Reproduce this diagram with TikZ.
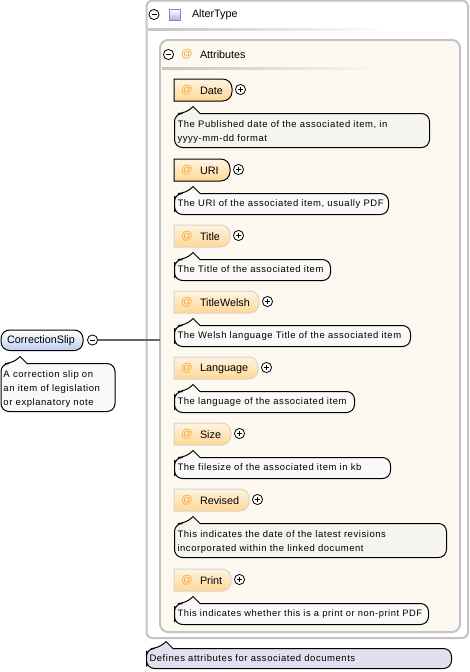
\documentclass[tikz,border=0pt]{standalone}
\usepackage{fontspec}
\setmainfont{Liberation Sans}
\newfontfamily\docfont[LetterSpace=6]{Liberation Sans}
\usetikzlibrary{calc}
\definecolor{framegray}{HTML}{C4C4C4}
\definecolor{cream}{HTML}{FEF9F0}
\definecolor{docfill}{HTML}{F6F4EE}
\definecolor{docwhite}{HTML}{F9F9F7}
\definecolor{lavdoc}{HTML}{E3DFEF}
\definecolor{orangetop}{HTML}{FFF4E2}
\definecolor{orangebot}{HTML}{FFD796}
\definecolor{atcolor}{HTML}{F0A830}
\definecolor{attrline}{HTML}{D8D4C8}
\definecolor{slipblue}{HTML}{BCCFF0}
\definecolor{iconedge}{HTML}{9080B8}
\definecolor{iconfill}{HTML}{B8A8DC}
\definecolor{linkgray}{HTML}{666666}
\tikzset{
  every node/.style={inner sep=0pt,outer sep=0pt},
  label text/.style={font=\fontsize{8.1pt}{9pt}\selectfont,anchor=west,text=black},
  doc text/.style={font=\docfont\fontsize{7.1pt}{10.5pt}\selectfont,anchor=north west,align=left,text=black},
  toggle/.style={circle,draw=black,fill=white,line width=0.6pt,minimum size=7.6pt},
  atsign/.style={font=\fontsize{8.5pt}{9pt}\selectfont,text=atcolor,anchor=center},
  frame line/.style={draw=framegray,line width=1.5pt,rounded corners=4.5pt},
  link/.style={draw=linkgray,line width=1.5pt},
}
% toggle glyph: #1 name, #2 x, #3 y, #4 1 for plus
\newcommand{\togglebtn}[4]{%
  \node[toggle] (#1) at (#2,#3) {};
  \draw[line width=0.6pt] ($(#1.center)+(-2.5,0)$) -- ($(#1.center)+(2.5,0)$);
  \ifnum#4=1 \draw[line width=0.6pt] ($(#1.center)+(0,-2.5)$) -- ($(#1.center)+(0,2.5)$);\fi
}
% doc bubble: x1 y1 x2 y2 pointer-x fill
\newcommand{\docbubble}[6]{%
  \draw[black,line width=0.75pt,fill=#6,rounded corners=6pt]
    (#1,#2/2+#4/2) -- (#1,#2) -- (#5-7,#2) [sharp corners] -- (#5,#2-7) -- (#5+7,#2) [rounded corners=6pt] -- (#3,#2) -- (#3,#4) -- (#1,#4) -- cycle;
}
% attribute: name y xright required label
\newcommand{\attr}[5]{%
  \ifnum#4=1 \def\bcol{black}\else\def\bcol{attrline}\fi
  \draw[draw=\bcol,line width=0.75pt,top color=orangetop,bottom color=orangebot]
    (174,#2) -- (#3-8,#2) [rounded corners=7pt] -- (#3,#2) -- (#3,#2+22) [sharp corners] -- (174,#2+22) -- cycle;
  \node[atsign] (#1at) at (187,#2+11) {@};
  \node[label text] (#1) at (200,#2+11.5) {#5};
  \togglebtn{#1tg}{#3+8.5}{#2+10.5}{1}
}
\begin{document}
\begin{tikzpicture}[x=0.75pt,y=-0.75pt]
\useasboundingbox (0,0) rectangle (470,672);
\fill[white] (0,0) rectangle (470,672);

% outer frame
\draw[frame line,fill=white] (146.5,0.5) -- (468,0.5) -- (468,638) -- (146.5,638) -- cycle;
\togglebtn{altertg}{154}{14.5}{0}
\node[draw=iconedge,line width=0.75pt,minimum size=8.6pt,top color=white,bottom color=iconfill,anchor=center] (altericon) at (175,15) {};
\node[label text] (altertype) at (192,15) {AlterType};
\shade[left color=framegray,right color=white] (148,28) rectangle (390,30);

% inner frame
\draw[frame line,fill=cream,rounded corners=6pt] (160,40) -- (460,40) -- (460,632) -- (160,632) -- cycle;
\togglebtn{attrtg}{168.5}{54.5}{0}
\node[atsign] (attrat) at (187,54.5) {@};
\node[label text] (attributes) at (200,55) {Attributes};
\shade[left color=framegray,right color=cream] (162,67) rectangle (385,69);

\coordinate (attrwest) at (160,340);

% attributes
\attr{date}{79}{232}{1}{Date}
\docbubble{174.5}{113.5}{429.5}{147.5}{193}{docfill}
\node[doc text] (datedoc) at (177.5,120.5) {The Published date of the associated item, in\\yyyy-mm-dd format};

\attr{uri}{159}{230}{1}{URI}
\docbubble{174.5}{193.5}{388.5}{214.5}{193}{docwhite}
\node[doc text] (uridoc) at (177.5,200) {The URI of the associated item, usually PDF};

\attr{title}{225}{230}{0}{Title}
\docbubble{174.5}{259.5}{330.5}{280.5}{193}{docwhite}
\node[doc text] (titledoc) at (177.5,266) {The Title of the associated item};

\attr{titlewelsh}{291}{259}{0}{TitleWelsh}
\docbubble{174.5}{325.5}{410.5}{346.5}{193}{docwhite}
\node[doc text] (welshdoc) at (177.5,332) {The Welsh language Title of the associated item};

\attr{language}{357}{258}{0}{Language}
\docbubble{174.5}{391.5}{354.5}{412.5}{193}{docwhite}
\node[doc text] (langdoc) at (177.5,398) {The language of the associated item};

\attr{size}{423}{231}{0}{Size}
\docbubble{174.5}{457.5}{390.5}{478.5}{193}{docwhite}
\node[doc text] (sizedoc) at (177.5,464) {The filesize of the associated item in kb};

\attr{revised}{489}{249}{0}{Revised}
\docbubble{174.5}{523.5}{446.5}{557.5}{193}{docfill}
\node[doc text] (reviseddoc) at (177.5,530.5) {This indicates the date of the latest revisions\\incorporated within the linked document};

\attr{print}{569}{231}{0}{Print}
\docbubble{174.5}{603.5}{428.5}{624.5}{193}{docwhite}
\node[doc text,font=\docfont\fontsize{7pt}{10.5pt}\selectfont] (printdoc) at (177.5,610) {This indicates whether this is a print or non-print PDF};

% root element
\draw[black,line width=0.75pt,top color=white,bottom color=slipblue,rounded corners=6.5pt] (1,330) rectangle (83,350.5);
\node[label text,anchor=center] (slip) at (41,340.5) {CorrectionSlip};
\togglebtn{sliptg}{92.5}{340}{0}
\draw[link] (sliptg) -- (attrwest);
\docbubble{1}{363.5}{115}{411.5}{20}{docwhite}
\node[doc text] (slipdoc) at (3.5,370.5) {A correction slip on\\an item of legislation\\or explanatory note};

% outer doc
\docbubble{146.5}{648.5}{451.5}{668.5}{166}{lavdoc}
\node[doc text] (alterdoc) at (149.5,655) {Defines attributes for associated documents};
\end{tikzpicture}
\end{document}
